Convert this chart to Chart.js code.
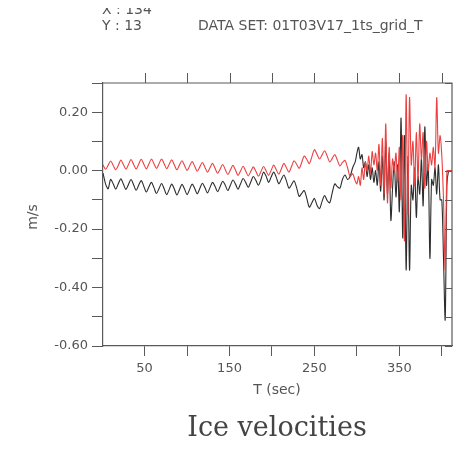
<!DOCTYPE html>
<html>
<head>
<meta charset="utf-8">
<script src="https://cdn.jsdelivr.net/npm/chart.js@4"></script>
<style>
  html, body { margin: 0; padding: 0; background: #fff; }
  #wrap { width: 472px; height: 452px; }
</style>
</head>
<body>
<div id="wrap"><canvas id="myChart" width="472" height="452"></canvas></div>
<script>
// Time axis (seconds): 3 s spacing through the calm part, 2 s through the break-up
const timeSec = [
  1, 4, 7, 10, 13, 16, 19, 22, 25, 28, 31, 34, 37, 40, 43, 46, 49, 52, 55, 58,
  61, 64, 67, 70, 73, 76, 79, 82, 85, 88, 91, 94, 97, 100, 103, 106, 109, 112, 115, 118,
  121, 124, 127, 130, 133, 136, 139, 142, 145, 148, 151, 154, 157, 160, 163, 166, 169, 172, 175, 178,
  181, 184, 187, 190, 193, 196, 199, 202, 205, 208, 211, 214, 217, 220, 223, 226, 229, 232, 235, 238,
  241, 244, 247, 250, 253, 256, 259, 262, 265, 268, 271, 274, 277, 280, 283, 286, 289, 292, 295, 298,
  300, 302, 304, 306, 308, 310, 312, 314, 316, 318, 320, 322, 324, 326, 328, 330, 332, 334, 336, 338,
  340, 342, 344, 346, 348, 350, 352, 354, 356, 358, 360, 362, 364, 366, 368, 370, 372, 374, 376, 378,
  380, 382, 384, 386, 388, 390, 392, 394, 396, 398, 400, 402, 404, 406, 408, 410, 412
];

// Red series (m/s)
const velRed = [
  0.020, 0.005, 0.018, 0.033, 0.018, 0.003, 0.018, 0.036, 0.021, 0.005, 0.021, 0.038, 0.022, 0.006, 0.022, 0.039, 0.023, 0.006, 0.023, 0.040,
  0.024, 0.008, 0.024, 0.040, 0.024, 0.007, 0.022, 0.037, 0.020, 0.003, 0.019, 0.034, 0.018, 0.001, 0.016, 0.031, 0.015, -0.002, 0.013, 0.028,
  0.012, -0.005, 0.010, 0.025, 0.008, -0.009, 0.006, 0.021, 0.004, -0.013, 0.002, 0.018, 0.002, -0.016, -0.001, 0.015, -0.001, -0.018, -0.003, 0.013,
  -0.002, -0.019, -0.003, 0.014, 0.000, -0.016, 0.001, 0.019, 0.004, -0.012, 0.006, 0.025, 0.010, -0.005, 0.014, 0.034, 0.022, 0.008, 0.028, 0.050,
  0.038, 0.024, 0.048, 0.072, 0.056, 0.040, 0.054, 0.068, 0.050, 0.030, 0.042, 0.055, 0.036, 0.016, 0.028, 0.035, 0.010, -0.020, -0.010, -0.035,
  -0.045, -0.020, -0.050, 0.010, -0.030, 0.030, 0.000, 0.050, -0.010, 0.065, 0.020, 0.060, 0.000, 0.090, -0.050, 0.110, -0.080, 0.160, -0.110, 0.080,
  -0.060, 0.040, 0.000, 0.060, -0.040, 0.080, -0.100, 0.120, -0.240, 0.260, -0.150, 0.250, 0.020, 0.100, -0.050, 0.130, -0.030, 0.160, 0.040, 0.130,
  -0.060, 0.100, 0.000, 0.060, 0.020, 0.080, 0.010, 0.250, 0.060, 0.120, 0.050, -0.100, -0.340, 0.000, 0.000, 0.000, 0.000
];

// Black series (m/s)
const velBlack = [
  -0.008, -0.045, -0.062, -0.030, -0.045, -0.063, -0.045, -0.028, -0.046, -0.064, -0.047, -0.030, -0.048, -0.067, -0.050, -0.034, -0.053, -0.073, -0.056, -0.040,
  -0.058, -0.078, -0.061, -0.044, -0.062, -0.082, -0.064, -0.046, -0.063, -0.083, -0.065, -0.047, -0.063, -0.082, -0.064, -0.046, -0.061, -0.079, -0.061, -0.043,
  -0.058, -0.076, -0.058, -0.040, -0.054, -0.072, -0.054, -0.036, -0.050, -0.068, -0.050, -0.032, -0.046, -0.063, -0.045, -0.027, -0.040, -0.057, -0.039, -0.020,
  -0.033, -0.050, -0.030, -0.005, -0.018, -0.040, -0.022, -0.005, -0.022, -0.045, -0.030, -0.015, -0.035, -0.060, -0.048, -0.035, -0.058, -0.088, -0.078, -0.068,
  -0.095, -0.125, -0.110, -0.095, -0.118, -0.130, -0.105, -0.085, -0.102, -0.110, -0.075, -0.045, -0.055, -0.060, -0.030, -0.015, -0.030, -0.020, 0.010, 0.030,
  0.060, 0.080, 0.040, 0.055, 0.010, 0.030, -0.020, 0.020, -0.030, 0.010, -0.040, 0.000, -0.050, 0.030, -0.070, 0.050, -0.100, 0.100, -0.080, 0.060,
  -0.170, -0.060, 0.030, -0.090, 0.020, -0.140, 0.180, -0.230, 0.120, -0.340, 0.050, -0.340, -0.050, -0.100, 0.010, -0.160, -0.020, -0.080, 0.040, -0.120,
  0.150, -0.050, 0.020, -0.300, -0.030, -0.050, 0.010, -0.080, 0.020, -0.100, -0.100, -0.300, -0.510, -0.050, 0.000, 0.000, 0.000
];

// Axis ticks and their labels
const xTicks = [50, 100, 150, 200, 250, 300, 350, 400];
const xTickLabels = ['50', '', '150', '', '250', '', '350', ''];
const yTicks = [-0.6, -0.5, -0.4, -0.3, -0.2, -0.1, 0.0, 0.1, 0.2, 0.3];
const yTickLabels = ['-0.60', '', '-0.40', '', '-0.20', '', '0.00', '', '0.20', ''];

const axisColor = '#5a5a5a';
const textColor = '#555555';
const tickFont = { family: 'DejaVu Sans', size: 13 };

function toPoints(ys) {
  return timeSec.map((t, i) => ({ x: t, y: ys[i] }));
}

// Top/right frame lines, their tick marks and the free-standing texts
const frameAndText = {
  id: 'frameAndText',
  afterDraw(chart) {
    const ctx = chart.ctx;
    const area = chart.chartArea;
    const xs = chart.scales.x;
    const ys = chart.scales.y;

    ctx.save();
    ctx.strokeStyle = axisColor;
    ctx.lineWidth = 1.2;
    ctx.beginPath();
    ctx.moveTo(area.left, area.top);
    ctx.lineTo(area.right, area.top);
    ctx.lineTo(area.right, area.bottom);
    ctx.stroke();

    ctx.lineWidth = 1;
    ctx.beginPath();
    xTicks.forEach(v => {
      const px = Math.round(xs.getPixelForValue(v)) + 0.5;
      ctx.moveTo(px, area.top);
      ctx.lineTo(px, area.top - 10);
    });
    yTicks.forEach(v => {
      const py = Math.round(ys.getPixelForValue(v)) + 0.5;
      ctx.moveTo(area.right, py);
      ctx.lineTo(area.right - 7, py);
    });
    ctx.stroke();

    ctx.fillStyle = textColor;
    ctx.font = '14px "DejaVu Sans"';
    ctx.textAlign = 'left';
    ctx.textBaseline = 'alphabetic';

    // first header line sits partly above the page edge
    ctx.save();
    ctx.beginPath();
    ctx.rect(0, 8, chart.width, 20);
    ctx.clip();
    ctx.fillText('X : 134', 102, 14);
    ctx.restore();

    ctx.fillText('Y : 13', 102, 30);
    ctx.fillText('DATA SET: 01T03V17_1ts_grid_T', 198, 30);

    ctx.textAlign = 'center';
    ctx.textBaseline = 'middle';
    ctx.fillText('T (sec)', 277, 390);

    ctx.save();
    ctx.translate(33, 217);
    ctx.rotate(-Math.PI / 2);
    ctx.fillText('m/s', 0, 0);
    ctx.restore();

    ctx.fillStyle = '#444444';
    ctx.font = '27px "DejaVu Serif"';
    ctx.fillText('Ice velocities', 277, 429);
    ctx.restore();
  }
};

const ctx = document.getElementById('myChart').getContext('2d');
window.myChart = new Chart(ctx, {
  type: 'line',
  data: {
    datasets: [
      {
        label: 'red',
        data: toPoints(velRed),
        borderColor: 'rgb(236, 64, 64)',
        borderWidth: 1.1,
        pointRadius: 0,
        tension: 0.3
      },
      {
        label: 'black',
        data: toPoints(velBlack),
        borderColor: 'rgb(45, 45, 45)',
        borderWidth: 1.1,
        pointRadius: 0,
        tension: 0.3
      }
    ]
  },
  options: {
    responsive: false,
    animation: false,
    devicePixelRatio: 1,
    layout: { padding: { left: 0, top: 83, right: 20, bottom: 0 } },
    plugins: {
      legend: { display: false },
      tooltip: { enabled: false },
      title: { display: false }
    },
    scales: {
      x: {
        type: 'linear',
        min: 1,
        max: 412,
        afterBuildTicks: s => { s.ticks = xTicks.map(v => ({ value: v })); },
        afterFit: s => { s.height = 106; },
        ticks: {
          callback: (v, i) => xTickLabels[i],
          font: tickFont,
          color: textColor,
          padding: 5,
          maxRotation: 0,
          autoSkip: false
        },
        grid: { drawOnChartArea: false, tickLength: 10, color: axisColor, lineWidth: 1 },
        border: { color: axisColor, width: 1.2 }
      },
      y: {
        type: 'linear',
        min: -0.6,
        max: 0.3,
        afterBuildTicks: s => { s.ticks = yTicks.map(v => ({ value: v })); },
        afterFit: s => { s.width = 103; },
        ticks: {
          callback: (v, i) => yTickLabels[i],
          font: tickFont,
          color: textColor,
          padding: 4,
          autoSkip: false
        },
        grid: { drawOnChartArea: false, tickLength: 11, color: axisColor, lineWidth: 1 },
        border: { color: axisColor, width: 1.2 }
      }
    }
  },
  plugins: [frameAndText]
});
</script>
</body>
</html>
